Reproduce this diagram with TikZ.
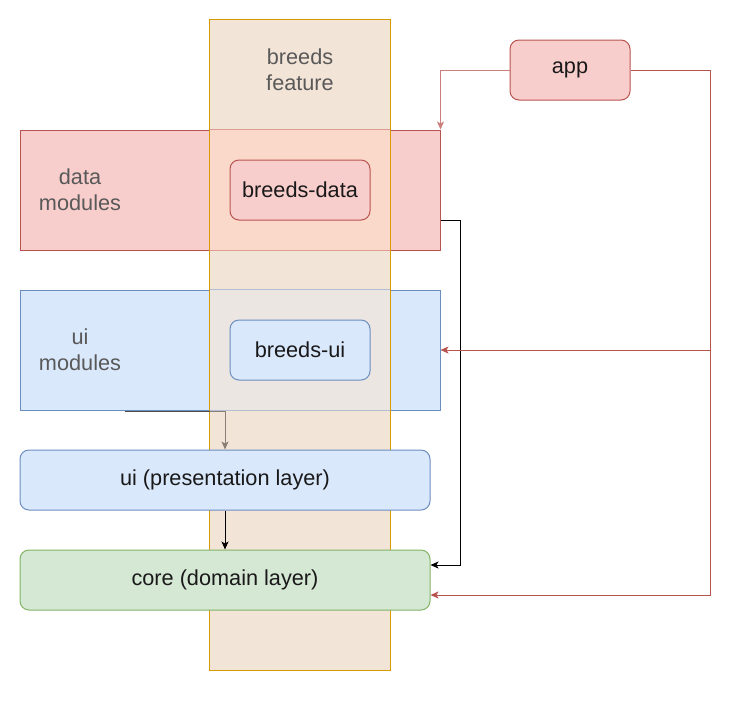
\documentclass[tikz,border=0pt]{standalone}
\usepackage{fontspec}
\setmainfont{Liberation Sans}
\usetikzlibrary{arrows.meta}
\usetikzlibrary{calc}
\definecolor{redfill}{HTML}{F8CECC}
\definecolor{redline}{HTML}{B85450}
\definecolor{bluefill}{HTML}{DAE8FC}
\definecolor{blueline}{HTML}{6C8EBF}
\definecolor{greenfill}{HTML}{D5E8D4}
\definecolor{greenline}{HTML}{82B366}
\definecolor{colfill}{HTML}{F3E4D8}
\definecolor{colline}{HTML}{D79B00}
\definecolor{overred}{HTML}{FBD9CA}
\definecolor{overblue}{HTML}{EBE6E2}
\definecolor{greytext}{HTML}{595959}
\definecolor{greyarrow}{HTML}{8A7F76}
\tikzset{
  layer/.style={rectangle, line width=1pt, minimum width=420pt, minimum height=120pt, inner sep=0pt},
  module/.style={rectangle, rounded corners=9pt, line width=1pt, minimum width=140pt, minimum height=60pt, inner sep=0pt, text=black!90},
  wide/.style={module, minimum width=410pt},
  caption/.style={text=greytext, align=center, inner sep=0pt},
  link/.style={line width=1pt, -{Stealth[length=8pt, width=7pt, inset=2pt]}},
}

\begin{document}
\begin{tikzpicture}[x=1pt, y=-1pt, font=\fontsize{21.7}{26}\selectfont]

\useasboundingbox (0,0) rectangle (751,702);

% feature column (fill first)
\node[rectangle, fill=colfill, minimum width=180pt, minimum height=650pt, inner sep=0pt] (col) at (300,345) {};

% module layers
\node[layer, fill=redfill, draw=redline] (data) at (230,190) {};
\node[layer, fill=bluefill, draw=blueline] (uimod) at (230,350) {};

% where the column crosses the layers
\fill[overred] (col.west |- data.north) rectangle (col.east |- data.south);
\draw[line width=1pt, redline!45!overred] (col.west |- data.north) -- (col.east |- data.north);
\draw[line width=1pt, redline!45!overred] (col.west |- data.south) -- (col.east |- data.south);
\fill[overblue] (col.west |- uimod.north) rectangle (col.east |- uimod.south);
\draw[line width=1pt, blueline!45!overblue] (col.west |- uimod.north) -- (col.east |- uimod.north);
\draw[line width=1pt, blueline!45!overblue] (col.west |- uimod.south) -- (col.east |- uimod.south);

\draw[line width=1pt, colline] (col.north west) rectangle (col.south east);

% captions
\node[caption] (collbl) at (300,70) {breeds\\feature};
\node[caption] (datalbl) at (80,190) {data\\modules};
\node[caption] (uilbl) at (80,350) {ui\\modules};

% modules
\node[module, fill=redfill, draw=redline] (bdata) at (300,190) {breeds-data};
\node[module, fill=bluefill, draw=blueline] (bui) at (300,350) {breeds-ui};
\node[module, fill=redfill, draw=redline, minimum width=120pt] (app) at (570,70) {app};

\node[wide, fill=bluefill, draw=blueline] (pres) at (225,480) {ui (presentation layer)};
\node[wide, fill=greenfill, draw=greenline] (core) at (225,580) {core (domain layer)};

% ui modules -> presentation
\coordinate (uistart) at ($(uimod.south west)+(105,1)$);
\draw[line width=1pt, black!70] (uistart) -- (uistart -| col.west);
\draw[link, greyarrow] (uistart -| col.west) -| (pres.north);

% dependencies
\draw[link] (pres.south) -- (core.north);
\draw[link] ($(data.east)+(0,30)$) -- ++(20,0) |- ($(core.east)+(0,-15)$);
\draw[link, redline!75] (app.west) -| (data.north east);
\draw[link, redline] (app.east) -| ($(uimod.east)+(270,0)$) -- (uimod.east);
\draw[link, redline] ($(uimod.east)+(270,0)$) |- ($(core.east)+(0,15)$);

\end{tikzpicture}
\end{document}
